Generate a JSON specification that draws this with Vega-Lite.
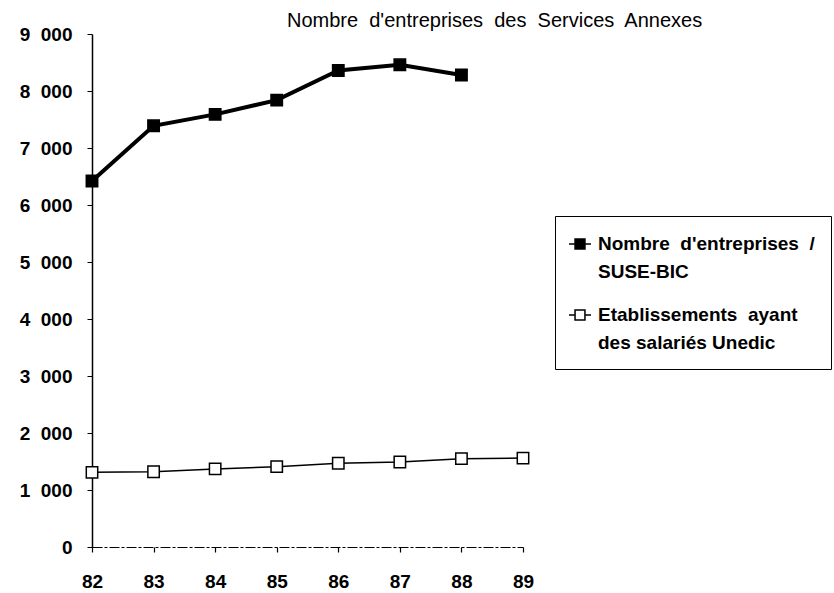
{
  "$schema": "https://vega.github.io/schema/vega-lite/v6.json",
  "width": 431,
  "height": 513,
  "autosize": {"type": "none"},
  "padding": {"left": 92, "top": 34, "right": 311, "bottom": 46},
  "background": "white",
  "config": {
    "view": {"stroke": null},
    "font": "Liberation Sans",
    "style": {"guide-label": {"lineHeight": 28}},
    "axis": {"grid": false, "domainColor": "black", "tickColor": "black", "labelColor": "black", "labelFont": "Liberation Sans", "labelFontWeight": "bold", "labelFontSize": 19, "titleFontSize": 0}
  },
  "title": {
    "text": "Nombre\u00a0 d'entreprises\u00a0 des\u00a0 Services\u00a0 Annexes",
    "anchor": "start",
    "frame": "group",
    "dx": 195,
    "dy": 6,
    "offset": 0,
    "fontSize": 20,
    "fontWeight": "normal",
    "font": "Liberation Sans",
    "color": "black"
  },
  "data": {
    "values": [
      {"annee": 82, "valeur": 6420, "serie": "Nombre d'entreprises / SUSE-BIC"},
      {"annee": 83, "valeur": 7390, "serie": "Nombre d'entreprises / SUSE-BIC"},
      {"annee": 84, "valeur": 7590, "serie": "Nombre d'entreprises / SUSE-BIC"},
      {"annee": 85, "valeur": 7840, "serie": "Nombre d'entreprises / SUSE-BIC"},
      {"annee": 86, "valeur": 8360, "serie": "Nombre d'entreprises / SUSE-BIC"},
      {"annee": 87, "valeur": 8460, "serie": "Nombre d'entreprises / SUSE-BIC"},
      {"annee": 88, "valeur": 8280, "serie": "Nombre d'entreprises / SUSE-BIC"},
      {"annee": 82, "valeur": 1310, "serie": "Etablissements ayant des salariés Unedic"},
      {"annee": 83, "valeur": 1320, "serie": "Etablissements ayant des salariés Unedic"},
      {"annee": 84, "valeur": 1370, "serie": "Etablissements ayant des salariés Unedic"},
      {"annee": 85, "valeur": 1410, "serie": "Etablissements ayant des salariés Unedic"},
      {"annee": 86, "valeur": 1470, "serie": "Etablissements ayant des salariés Unedic"},
      {"annee": 87, "valeur": 1490, "serie": "Etablissements ayant des salariés Unedic"},
      {"annee": 88, "valeur": 1550, "serie": "Etablissements ayant des salariés Unedic"},
      {"annee": 89, "valeur": 1560, "serie": "Etablissements ayant des salariés Unedic"}
    ]
  },
  "encoding": {
    "x": {
      "field": "annee", "type": "quantitative",
      "scale": {"domain": [82, 89], "nice": false, "zero": false},
      "axis": {"title": null, "values": [82, 83, 84, 85, 86, 87, 88, 89], "format": "d", "labelFlush": false, "labelOverlap": false, "tickSize": 5, "labelPadding": 20, "domainDash": [10, 2, 3, 2], "domainWidth": 1.2, "tickWidth": 1.2}
    },
    "y": {
      "field": "valeur", "type": "quantitative",
      "scale": {"domain": [0, 9000], "nice": false},
      "axis": {"title": null, "values": [0, 1000, 2000, 3000, 4000, 5000, 6000, 7000, 8000, 9000], "labelExpr": "replace(format(datum.value, ','), ',', '\u00a0 ')", "labelFlush": false, "labelOverlap": false, "tickSize": 5, "labelPadding": 15, "domainWidth": 1.5, "tickWidth": 1}
    }
  },
  "layer": [
    {
      "transform": [{"filter": "datum.serie === \"Nombre d'entreprises / SUSE-BIC\""}],
      "mark": {"type": "line", "color": "black", "strokeWidth": 4},
      "encoding": {}
    },
    {
      "transform": [{"filter": "datum.serie === \"Etablissements ayant des salariés Unedic\""}],
      "mark": {"type": "line", "color": "black", "strokeWidth": 1.5},
      "encoding": {}
    },
    {
      "mark": {"type": "point", "shape": "square", "size": 130, "stroke": "black", "strokeWidth": 1.5, "opacity": 1, "filled": true},
      "encoding": {
        "fill": {
          "field": "serie", "type": "nominal",
          "scale": {"domain": ["Nombre d'entreprises / SUSE-BIC", "Etablissements ayant des salariés Unedic"], "range": ["black", "white"]},
          "legend": {
            "title": null,
            "orient": "none",
            "legendX": 463,
            "legendY": 182,
            "strokeColor": "black",
            "padding": 16,
            "fillColor": "white",
            "symbolType": "M-1,0H-0.45M0.45,0H1M-0.45,-0.45H0.45V0.45H-0.45Z",
            "symbolSize": 484,
            "symbolOffset": -3,
            "symbolStrokeColor": "black",
            "symbolStrokeWidth": 1.5,
            "labelFont": "Liberation Sans",
            "labelFontSize": 19,
            "labelFontWeight": "bold",
            "labelColor": "black",
            "labelLimit": 400,
            "labelOffset": 6,
            "rowPadding": 21,
            "labelExpr": "datum.label === \"Etablissements ayant des salariés Unedic\" ? [\"Etablissements\u00a0 ayant\", \"des salariés Unedic\"] : [\"Nombre\u00a0 d'entreprises\u00a0 /\u00a0\u00a0\", \"SUSE-BIC\"]"
          }
        }
      }
    }
  ]
}
